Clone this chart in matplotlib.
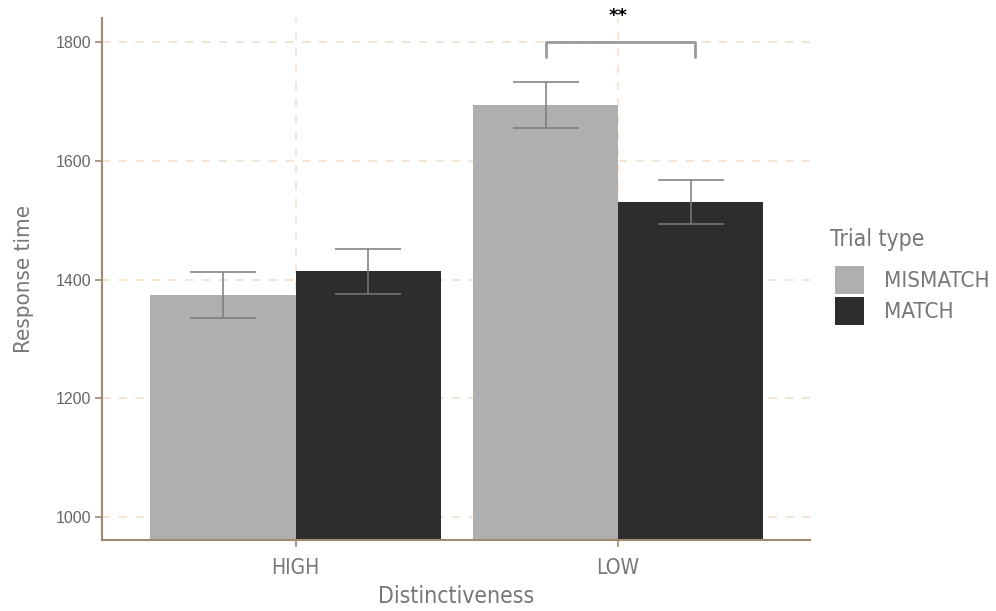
import matplotlib
matplotlib.use("Agg")
import matplotlib.pyplot as plt
from matplotlib.patches import Patch
from matplotlib.font_manager import FontProperties
import numpy as np

categories = ["HIGH", "LOW"]
trial_types = ["MISMATCH", "MATCH"]
mismatch_rt = [1374, 1694]
match_rt = [1414, 1531]
mismatch_se = [38, 39]
match_se = [38, 37]
y_ticks = [1000, 1200, 1400, 1600, 1800]

def cfont(size):
    return FontProperties(family="DejaVu Sans", stretch="condensed", size=size)

fig = plt.figure(figsize=(9.96, 6.11), dpi=100)
ax = fig.add_axes([102/996, 1-540/611, (810-102)/996, (540-18)/611])

x = np.arange(len(categories))
w = 0.45
col_mis = "#afafaf"
col_mat = "#2d2d2d"
spine_col = "#a08a6e"
grid_col = "#f2e0d0"
txt_col = "#777777"

ax.set_axisbelow(True)
ax.grid(True, which="major", color=grid_col, linestyle=(0, (5, 5)), linewidth=1.2)
ax.bar(x - w/2, mismatch_rt, width=w, color=col_mis, zorder=2)
ax.bar(x + w/2, match_rt, width=w, color=col_mat, zorder=2)
ax.errorbar(x - w/2, mismatch_rt, yerr=mismatch_se, fmt="none", ecolor="#7a7a7a",
            elinewidth=1.1, capsize=23.5, capthick=1.1, zorder=3)
ax.errorbar(x + w/2, match_rt, yerr=match_se, fmt="none", ecolor="#7a7a7a",
            elinewidth=1.1, capsize=23.5, capthick=1.1, zorder=3)

# significance bracket
bx0, bx1 = x[1] - w/2, x[1] + w/2 + 0.015
ax.plot([bx0, bx0, bx1, bx1], [1775, 1800, 1800, 1775], color="#9a9a9a", lw=2,
        solid_joinstyle="round", solid_capstyle="round", zorder=4, clip_on=False)
ax.text(x[1], 1843, "**", ha="center", va="center", fontsize=13, fontweight="bold",
        color="black", clip_on=False)

ax.set_xlim(-0.6, 1.595)
ax.set_ylim(961.3, 1840.4)
ax.set_xticks(x)
ax.set_xticklabels(categories, fontproperties=cfont(15), color=txt_col)
ax.set_yticks(y_ticks)
ax.set_yticklabels([str(v) for v in y_ticks], fontsize=11.5, color="#666666",
                   fontfamily="Liberation Sans")

for s in ["top", "right"]:
    ax.spines[s].set_visible(False)
for s in ["left", "bottom"]:
    ax.spines[s].set_color(spine_col)
    ax.spines[s].set_linewidth(1.5)
ax.tick_params(axis="both", colors=spine_col, length=5, width=1.2)
ax.tick_params(axis="x", labelcolor=txt_col, pad=8)
ax.tick_params(axis="y", labelcolor="#666666", pad=3)

ax.set_xlabel("Distinctiveness", fontproperties=cfont(16.5), color=txt_col, labelpad=5)
ax.set_ylabel("Response time", fontproperties=cfont(16), color=txt_col, labelpad=15)

fig.text(830/996, 1-239/611, "Trial type", fontproperties=cfont(16.5), color=txt_col,
         ha="left", va="center")
handles = [Patch(facecolor=col_mis, edgecolor="none"), Patch(facecolor=col_mat, edgecolor="none")]
leg = fig.legend(handles, trial_types, loc="upper left",
                 bbox_to_anchor=(835/996, 1-266/611), frameon=False,
                 prop=cfont(16), handlelength=1.3, handleheight=1.55,
                 handletextpad=0.9, labelspacing=0.15, borderaxespad=0, borderpad=0)
for t in leg.get_texts():
    t.set_color(txt_col)

fig.savefig("out.png", dpi=100)
